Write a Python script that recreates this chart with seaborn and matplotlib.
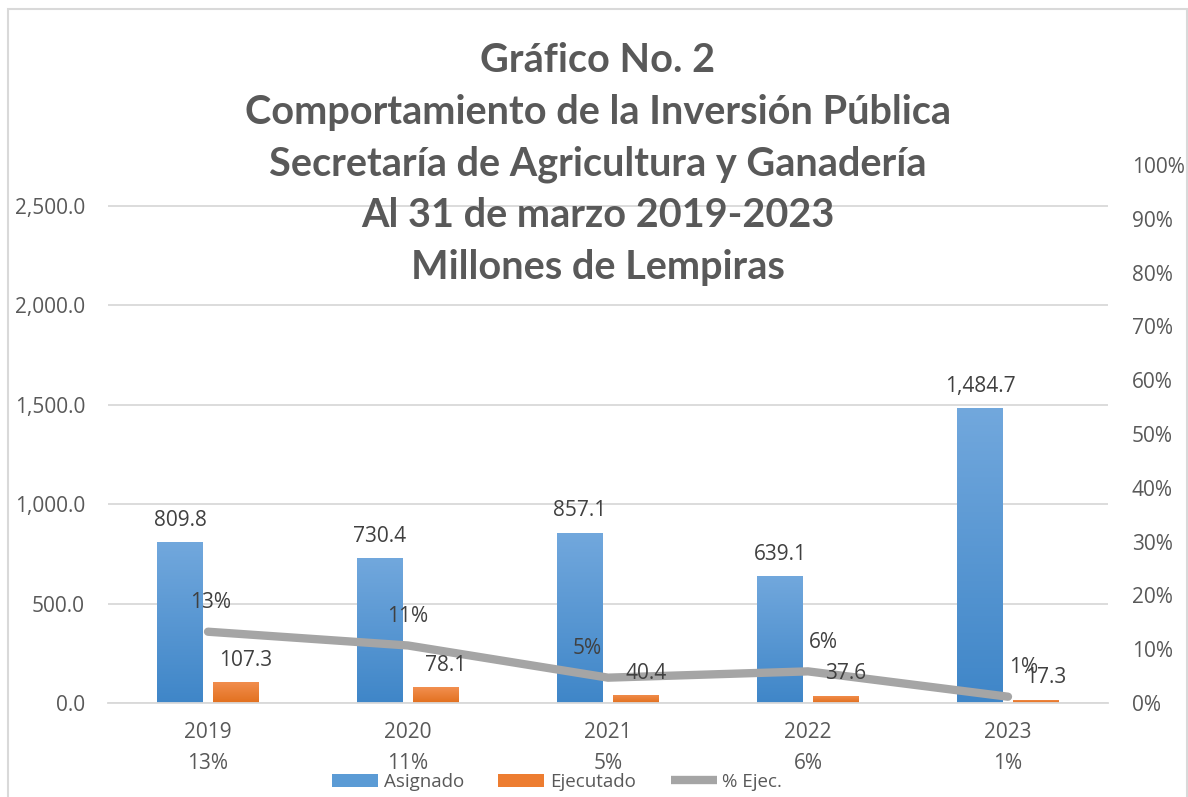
import numpy as np
import pandas as pd
import matplotlib
matplotlib.use("Agg")
import matplotlib.pyplot as plt
import matplotlib.ticker as mticker
from matplotlib.colors import LinearSegmentedColormap
from matplotlib.patches import Rectangle, Patch
from matplotlib.lines import Line2D
import seaborn as sns

years = ["2019", "2020", "2021", "2022", "2023"]
asignado = [809.8, 730.4, 857.1, 639.1, 1484.7]
ejecutado = [107.3, 78.1, 40.4, 37.6, 17.3]
pct_ejec = [0.1325, 0.1069, 0.0471, 0.0588, 0.0117]
pct_labels = ["13%", "11%", "5%", "6%", "1%"]
series_names = ["Asignado", "Ejecutado", "% Ejec."]
title_lines = ["Gráfico No. 2",
               "Comportamiento de la Inversión Pública",
               "Secretaría de Agricultura y Ganadería",
               "Al 31 de marzo 2019-2023",
               "Millones de Lempiras"]

BLUE = "#5B9BD5"
ORANGE = "#ED7D31"
GRAY_LINE = "#A5A5A5"
TXT = "#595959"
LBL = "#404040"
# horizontal nudges (points) of the labels, as placed in the original
pct_label_dx = [2, 0, -15, 11, 11]
bar_label_dx = [0, 7]

sns.set_theme(style="white")
plt.rcParams["font.family"] = ["Open Sans", "DejaVu Sans"]

df = pd.DataFrame({
    "year": years * 2,
    "value": asignado + ejecutado,
    "serie": [series_names[0]] * len(years) + [series_names[1]] * len(years),
})

fig = plt.figure(figsize=(11.88, 7.97), dpi=100)
ax = fig.add_axes([108 / 1188, 1 - 703 / 797, 1000 / 1188, (703 - 165) / 797])

sns.barplot(data=df, x="year", y="value", hue="serie", order=years,
            hue_order=series_names[:2], palette=[BLUE, ORANGE],
            width=0.56, gap=0.18, ax=ax, legend=False, saturation=1)

# gradient fill on bars
cmaps = {BLUE: LinearSegmentedColormap.from_list("b", ["#3F86C8", "#72A8DD"]),
         ORANGE: LinearSegmentedColormap.from_list("o", ["#E2701E", "#F28F50"])}
grad = np.linspace(0, 1, 256).reshape(-1, 1)
bar_info = []
for i, cont in enumerate(ax.containers):
    col = [BLUE, ORANGE][i]
    for bar, v in zip(cont, cont.datavalues):
        x0, y0 = bar.get_x(), bar.get_y()
        w, h = bar.get_width(), bar.get_height()
        im = ax.imshow(grad, extent=[x0, x0 + w, y0, y0 + h], origin="lower",
                       cmap=cmaps[col], aspect="auto", zorder=bar.get_zorder() + 0.1)
        im.set_clip_path(bar)
        bar.set_edgecolor("none")
        bar_info.append((x0 + w / 2, y0 + h, v, bar_label_dx[i]))

ax.set_xlim(-0.5, len(years) - 0.5)
ax.set_ylim(0, 2706)
ax.set_yticks([0, 500, 1000, 1500, 2000, 2500])
ax.yaxis.set_major_formatter(mticker.FuncFormatter(lambda v, p: f"{v:,.1f}"))
ax.set_xticks(range(len(years)))
ax.set_xticklabels([f"{y}\n{p}" for y, p in zip(years, pct_labels)])
ax.set_xlabel("")
ax.set_ylabel("")
ax.grid(axis="y", color="#D9D9D9", linewidth=1.3)
ax.set_axisbelow(True)
ax.tick_params(axis="y", length=0, pad=16.5, labelsize=15, labelcolor=TXT)
ax.tick_params(axis="x", length=0, pad=14, labelsize=15, labelcolor=TXT)
for t in ax.get_xticklabels():
    t.set_linespacing(1.62)
for s in ax.spines.values():
    s.set_visible(False)
ax.spines["bottom"].set_visible(True)
ax.spines["bottom"].set_color("#D9D9D9")
ax.spines["bottom"].set_linewidth(1.3)

ax2 = ax.twinx()
sns.lineplot(x=np.arange(len(years)), y=pct_ejec, ax=ax2, color=GRAY_LINE,
             linewidth=6, solid_capstyle="round")
ax2.set_ylim(0, 1.0)
ax2.set_yticks(np.linspace(0, 1, 11))
ax2.yaxis.set_major_formatter(mticker.PercentFormatter(1.0, decimals=0))
ax2.tick_params(axis="y", length=0, pad=17, labelsize=15, labelcolor=TXT)
for s in ax2.spines.values():
    s.set_visible(False)
for xi, (v, lab, dx) in enumerate(zip(pct_ejec, pct_labels, pct_label_dx)):
    ax2.annotate(lab, (xi, v), xytext=(dx, 21), textcoords="offset points",
                 ha="center", va="center", fontsize=15, color=LBL, zorder=10)

# bar value labels drawn on the top axes so they sit above the line
for bx, by, v, dx in bar_info:
    ax2.annotate(f"{v:,.1f}", (bx, by), xycoords=ax.transData,
                 xytext=(dx, 8), textcoords="offset points",
                 ha="center", va="bottom", fontsize=15, color=LBL, zorder=10)

handles = [Patch(facecolor=BLUE, edgecolor="none"),
           Patch(facecolor=ORANGE, edgecolor="none"),
           Line2D([0], [0], color=GRAY_LINE, linewidth=6, solid_capstyle="butt")]
fig.legend(handles, series_names, loc="center", ncol=3, frameon=False,
           bbox_to_anchor=(557 / 1188, 1 - 782 / 797), fontsize=13.5,
           labelcolor=TXT, handlelength=2.45, handleheight=0.7,
           columnspacing=1.85, handletextpad=0.3)

fig.text(598 / 1188, 1 - 164 / 797, "\n".join(title_lines), ha="center", va="center",
         fontsize=28.5, fontweight="bold", color=TXT, family="Lato", linespacing=1.49)

fig.patches.append(Rectangle((8 / 1188, -0.05), (1187 - 8) / 1188, 1.05 - 9 / 797,
                             transform=fig.transFigure, fill=False,
                             edgecolor="#D9D9D9", linewidth=1.5))

fig.savefig("out.png", dpi=100, facecolor="white")
